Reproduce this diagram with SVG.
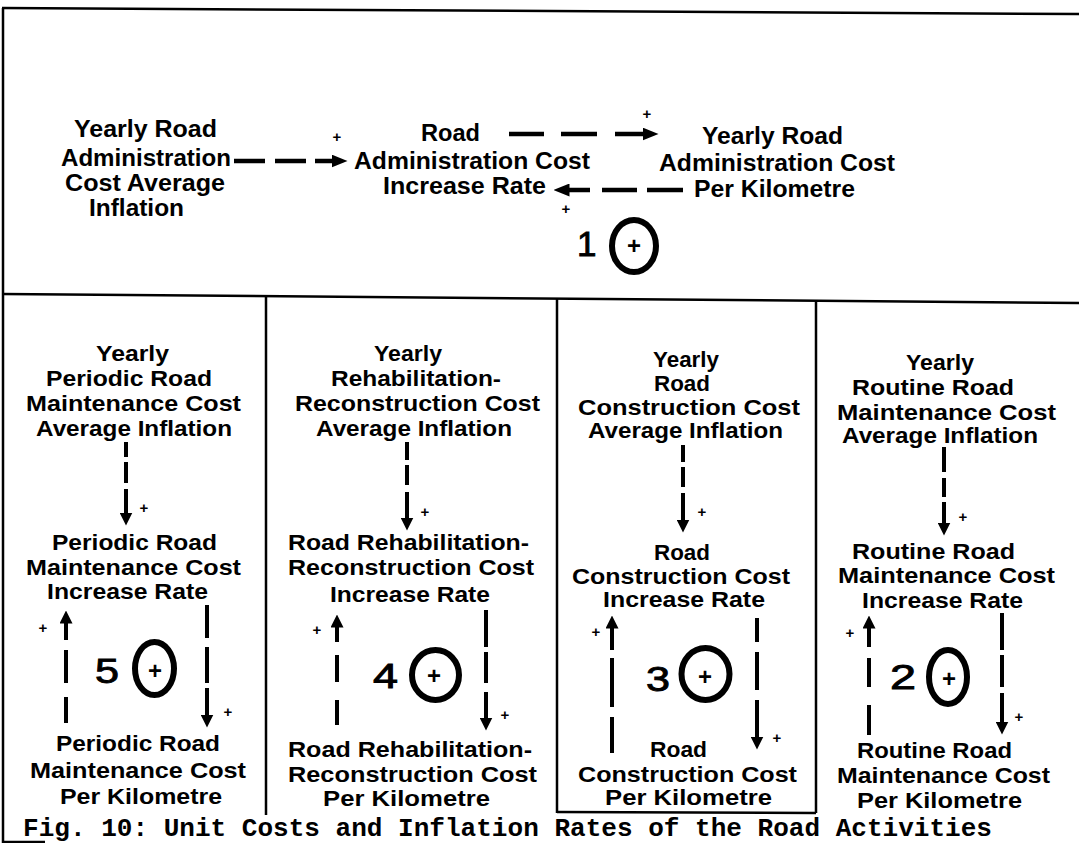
<svg xmlns="http://www.w3.org/2000/svg" width="1079" height="843" viewBox="0 0 1079 843">
<style>
.t{font-family:"Liberation Sans",Arial,sans-serif;font-weight:bold;fill:#000}
.top{font-size:23px}
.low{font-size:22px}
.pl{font-family:"Liberation Sans",Arial,sans-serif;font-weight:bold;font-size:15px;text-anchor:middle;fill:#000}
.ip{font-family:"Liberation Sans",Arial,sans-serif;font-weight:bold;font-size:24px;text-anchor:middle;fill:#000}
.num{font-family:"Liberation Sans",Arial,sans-serif;font-weight:normal;font-size:35px;fill:#000;stroke:#000;stroke-width:0.9}
.cap{font-family:"Liberation Mono","Courier New",monospace;font-weight:bold;font-size:26px;fill:#000}
.dl{stroke:#000;stroke-width:4;fill:none;marker-end:url(#ah)}
.dt{stroke:#000;stroke-width:4.5;fill:none;marker-end:url(#aht)}
.loop{fill:none;stroke:#000;stroke-width:6}
.fr{stroke:#000;stroke-width:2.5;fill:none}
</style>
<defs>
<marker id="ah" markerUnits="userSpaceOnUse" markerWidth="13" markerHeight="13" viewBox="0 0 13 13" refX="0.5" refY="6.5" orient="auto"><path d="M0,0 L13,6.5 L0,13 z" fill="#000"/></marker>
<marker id="aht" markerUnits="userSpaceOnUse" markerWidth="16" markerHeight="13" viewBox="0 0 16 13" refX="0.5" refY="6.5" orient="auto"><path d="M0,0 L16,6.5 L0,13 z" fill="#000"/></marker>
</defs>
<rect width="1079" height="843" fill="#fff"/>

<g id="frame">
<line class="fr" x1="2" y1="8" x2="1079" y2="14"/>
<line class="fr" x1="2" y1="294" x2="1079" y2="303" stroke-width="3"/>
<line class="fr" x1="3" y1="8" x2="3" y2="843"/>
<line class="fr" x1="266" y1="296" x2="266" y2="815"/>
<line class="fr" x1="557" y1="298" x2="557" y2="813"/>
<line class="fr" x1="816" y1="302" x2="816" y2="813"/>
<line class="fr" x1="557" y1="812" x2="816" y2="813"/>
<line class="fr" x1="2" y1="842" x2="45" y2="842"/>
</g>

<!-- top panel nodes -->
<g id="yearly-road-admin-cost-avg-inflation">
<text class="t top" x="74" y="137" textLength="143" lengthAdjust="spacingAndGlyphs">Yearly Road</text>
<text class="t top" x="61" y="166" textLength="170" lengthAdjust="spacingAndGlyphs">Administration</text>
<text class="t top" x="65" y="191" textLength="160" lengthAdjust="spacingAndGlyphs">Cost Average</text>
<text class="t top" x="89" y="216" textLength="95" lengthAdjust="spacingAndGlyphs">Inflation</text>
</g>
<g id="road-admin-cost-increase-rate">
<text class="t top" x="421" y="141" textLength="59" lengthAdjust="spacingAndGlyphs">Road</text>
<text class="t top" x="354" y="169" textLength="236" lengthAdjust="spacingAndGlyphs">Administration Cost</text>
<text class="t top" x="383" y="194" textLength="163" lengthAdjust="spacingAndGlyphs">Increase Rate</text>
</g>
<g id="yearly-road-admin-cost-per-km">
<text class="t top" x="702" y="144" textLength="141" lengthAdjust="spacingAndGlyphs">Yearly Road</text>
<text class="t top" x="659" y="171" textLength="236" lengthAdjust="spacingAndGlyphs">Administration Cost</text>
<text class="t top" x="694" y="197" textLength="161" lengthAdjust="spacingAndGlyphs">Per Kilometre</text>
</g>
<g id="loop1">
<text class="num" x="577" y="256" font-size="33" font-weight="bold">1</text>
<ellipse class="loop" cx="634" cy="246" rx="22" ry="26"/>
<text class="ip" x="634" y="254">+</text>
</g>

<!-- panel 1 -->
<g id="yearly-periodic-avg-inflation">
<text class="t low" x="96" y="361" textLength="73" lengthAdjust="spacingAndGlyphs">Yearly</text>
<text class="t low" x="46" y="386" textLength="166" lengthAdjust="spacingAndGlyphs">Periodic Road</text>
<text class="t low" x="26" y="411" textLength="215" lengthAdjust="spacingAndGlyphs">Maintenance Cost</text>
<text class="t low" x="36" y="436" textLength="196" lengthAdjust="spacingAndGlyphs">Average Inflation</text>
</g>
<g id="periodic-increase-rate">
<text class="t low" x="52" y="550" textLength="165" lengthAdjust="spacingAndGlyphs">Periodic Road</text>
<text class="t low" x="26" y="575" textLength="215" lengthAdjust="spacingAndGlyphs">Maintenance Cost</text>
<text class="t low" x="47" y="599" textLength="161" lengthAdjust="spacingAndGlyphs">Increase Rate</text>
</g>
<g id="periodic-per-km">
<text class="t low" x="56" y="751" textLength="164" lengthAdjust="spacingAndGlyphs">Periodic Road</text>
<text class="t low" x="30" y="778" textLength="216" lengthAdjust="spacingAndGlyphs">Maintenance Cost</text>
<text class="t low" x="60" y="804" textLength="162" lengthAdjust="spacingAndGlyphs">Per Kilometre</text>
</g>
<g id="loop5">
<text class="num" x="95" y="683" textLength="24" lengthAdjust="spacingAndGlyphs">5</text>
<ellipse class="loop" cx="154.5" cy="668.5" rx="19.5" ry="26.5"/>
<text class="ip" x="155" y="679">+</text>
</g>

<!-- panel 2 -->
<g id="yearly-rehab-avg-inflation">
<text class="t low" x="374" y="361" textLength="68" lengthAdjust="spacingAndGlyphs">Yearly</text>
<text class="t low" x="331" y="386" textLength="170" lengthAdjust="spacingAndGlyphs">Rehabilitation-</text>
<text class="t low" x="295" y="411" textLength="245" lengthAdjust="spacingAndGlyphs">Reconstruction Cost</text>
<text class="t low" x="316" y="436" textLength="196" lengthAdjust="spacingAndGlyphs">Average Inflation</text>
</g>
<g id="rehab-increase-rate">
<text class="t low" x="288" y="550" textLength="241" lengthAdjust="spacingAndGlyphs">Road Rehabilitation-</text>
<text class="t low" x="288" y="575" textLength="246" lengthAdjust="spacingAndGlyphs">Reconstruction Cost</text>
<text class="t low" x="330" y="602" textLength="160" lengthAdjust="spacingAndGlyphs">Increase Rate</text>
</g>
<g id="rehab-per-km">
<text class="t low" x="288" y="757" textLength="244" lengthAdjust="spacingAndGlyphs">Road Rehabilitation-</text>
<text class="t low" x="288" y="782" textLength="249" lengthAdjust="spacingAndGlyphs">Reconstruction Cost</text>
<text class="t low" x="323" y="806" textLength="167" lengthAdjust="spacingAndGlyphs">Per Kilometre</text>
</g>
<g id="loop4">
<text class="num" x="373" y="688" textLength="25" lengthAdjust="spacingAndGlyphs">4</text>
<ellipse class="loop" cx="435.5" cy="675" rx="23.5" ry="25"/>
<text class="ip" x="434" y="684">+</text>
</g>

<!-- panel 3 -->
<g id="yearly-construction-avg-inflation">
<text class="t low" x="653" y="367" textLength="66" lengthAdjust="spacingAndGlyphs">Yearly</text>
<text class="t low" x="654" y="391" textLength="56" lengthAdjust="spacingAndGlyphs">Road</text>
<text class="t low" x="578" y="415" textLength="222" lengthAdjust="spacingAndGlyphs">Construction Cost</text>
<text class="t low" x="588" y="438" textLength="195" lengthAdjust="spacingAndGlyphs">Average Inflation</text>
</g>
<g id="construction-increase-rate">
<text class="t low" x="654" y="560" textLength="56" lengthAdjust="spacingAndGlyphs">Road</text>
<text class="t low" x="572" y="584" textLength="218" lengthAdjust="spacingAndGlyphs">Construction Cost</text>
<text class="t low" x="603" y="607" textLength="162" lengthAdjust="spacingAndGlyphs">Increase Rate</text>
</g>
<g id="construction-per-km">
<text class="t low" x="650" y="757" textLength="57" lengthAdjust="spacingAndGlyphs">Road</text>
<text class="t low" x="578" y="782" textLength="219" lengthAdjust="spacingAndGlyphs">Construction Cost</text>
<text class="t low" x="605" y="805" textLength="167" lengthAdjust="spacingAndGlyphs">Per Kilometre</text>
</g>
<g id="loop3">
<text class="num" x="646" y="691" textLength="24" lengthAdjust="spacingAndGlyphs">3</text>
<ellipse class="loop" cx="705.5" cy="674" rx="24" ry="26"/>
<text class="ip" x="705" y="685">+</text>
</g>

<!-- panel 4 -->
<g id="yearly-routine-avg-inflation">
<text class="t low" x="906" y="370" textLength="68" lengthAdjust="spacingAndGlyphs">Yearly</text>
<text class="t low" x="852" y="395" textLength="162" lengthAdjust="spacingAndGlyphs">Routine Road</text>
<text class="t low" x="837" y="420" textLength="219" lengthAdjust="spacingAndGlyphs">Maintenance Cost</text>
<text class="t low" x="842" y="443" textLength="196" lengthAdjust="spacingAndGlyphs">Average Inflation</text>
</g>
<g id="routine-increase-rate">
<text class="t low" x="852" y="559" textLength="163" lengthAdjust="spacingAndGlyphs">Routine Road</text>
<text class="t low" x="838" y="583" textLength="217" lengthAdjust="spacingAndGlyphs">Maintenance Cost</text>
<text class="t low" x="862" y="608" textLength="161" lengthAdjust="spacingAndGlyphs">Increase Rate</text>
</g>
<g id="routine-per-km">
<text class="t low" x="857" y="758" textLength="155" lengthAdjust="spacingAndGlyphs">Routine Road</text>
<text class="t low" x="837" y="783" textLength="213" lengthAdjust="spacingAndGlyphs">Maintenance Cost</text>
<text class="t low" x="857" y="808" textLength="165" lengthAdjust="spacingAndGlyphs">Per Kilometre</text>
</g>
<g id="loop2">
<text class="num" x="890" y="689" textLength="26" lengthAdjust="spacingAndGlyphs">2</text>
<ellipse class="loop" cx="948" cy="677" rx="19" ry="27"/>
<text class="ip" x="949" y="687">+</text>
</g>

<!-- connectors -->
<g id="connectors">
<path class="dt" d="M234,161 H265 M275,161 H306 M315,161 H332"/>
<path class="dt" d="M509,134 H544 M561,134 H597 M615,134 H643"/>
<path class="dt" d="M683,190 H647 M637,190 H602 M590,190 H569"/>

<path class="dl" d="M126,442 V457 M126,462 V483 M126,489 V513"/>
<path class="dl" d="M66,723 V697 M66,683 V650 M66,640 V623"/>
<path class="dl" d="M207,605 V638 M207,647 V683 M207,688 V715"/>

<path class="dl" d="M407,442 V460 M407,465 V485 M407,492 V518"/>
<path class="dl" d="M337,725 V700 M337,682 V655 M337,642 V627"/>
<path class="dl" d="M486,610 V647 M486,652 V683 M486,692 V718"/>

<path class="dl" d="M683,445 V462 M683,467 V487 M683,493 V520"/>
<path class="dl" d="M612,753 V717 M612,707 V658 M612,650 V628"/>
<path class="dl" d="M757,618 V642 M757,652 V690 M757,700 V737"/>

<path class="dl" d="M944,447 V472 M944,478 V497 M944,502 V523"/>
<path class="dl" d="M869,735 V705 M869,687 V658 M869,647 V628"/>
<path class="dl" d="M1002,613 V650 M1002,655 V687 M1002,693 V722"/>
</g>

<g id="polarity-labels">
<text class="pl" x="337" y="142">+</text>
<text class="pl" x="647" y="119">+</text>
<text class="pl" x="566" y="214">+</text>
<text class="pl" x="144" y="513">+</text>
<text class="pl" x="43" y="633">+</text>
<text class="pl" x="228" y="717">+</text>
<text class="pl" x="425" y="517">+</text>
<text class="pl" x="317" y="635">+</text>
<text class="pl" x="505" y="720">+</text>
<text class="pl" x="702" y="517">+</text>
<text class="pl" x="596" y="637">+</text>
<text class="pl" x="777" y="743">+</text>
<text class="pl" x="963" y="522">+</text>
<text class="pl" x="850" y="638">+</text>
<text class="pl" x="1019" y="722">+</text>
</g>

<g id="caption">
<text class="cap" x="23" y="836" textLength="969" lengthAdjust="spacingAndGlyphs">Fig. 10: Unit Costs and Inflation Rates of the Road Activities</text>
</g>
</svg>
